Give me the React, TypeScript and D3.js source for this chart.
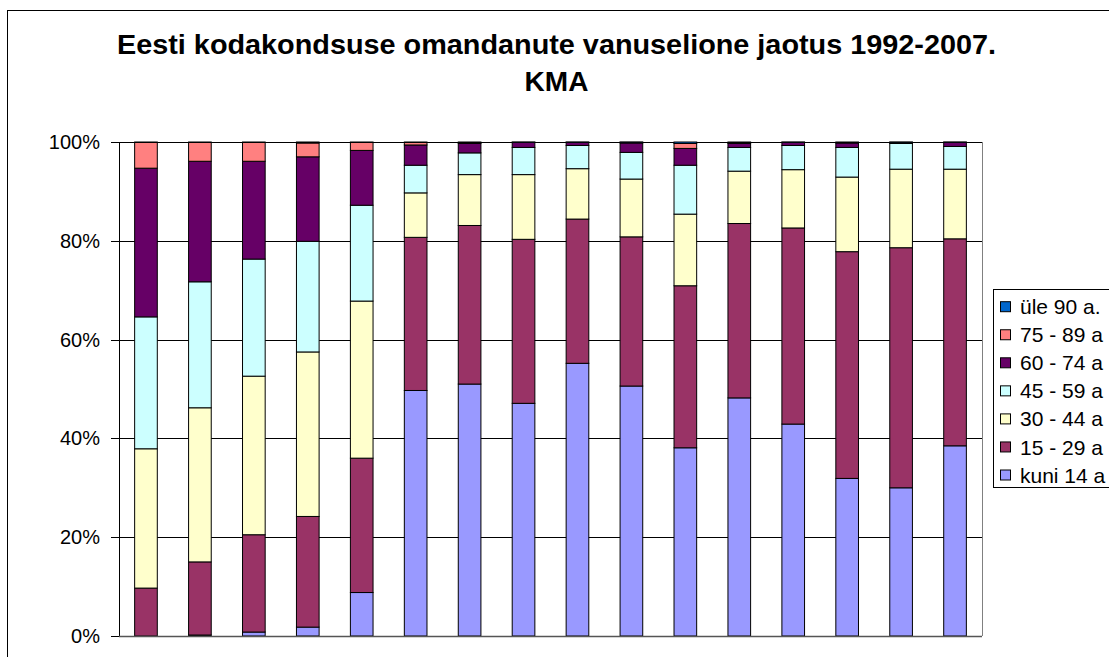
import React from "react";
import * as d3 from "d3";

const WIDTH = 1109;
const HEIGHT = 657;
const plot = { left: 119, right: 982, top: 142, bottom: 636 };

const years = [
  "1992", "1993", "1994", "1995", "1996", "1997", "1998", "1999",
  "2000", "2001", "2002", "2003", "2004", "2005", "2006", "2007",
];

// shares per year, in percent
const kuni14 = [0, 0.2, 0.8, 1.8, 8.8, 49.7, 51.0, 47.1, 55.2, 50.6, 38.1, 48.2, 42.9, 31.9, 30.0, 38.5];
const a15_29 = [9.7, 14.8, 19.7, 22.4, 27.2, 31.0, 32.1, 33.2, 29.2, 30.2, 32.8, 35.3, 39.7, 45.9, 48.6, 41.9];
const a30_44 = [28.2, 31.2, 32.1, 33.3, 31.8, 9.0, 10.3, 13.1, 10.2, 11.7, 14.5, 10.6, 11.8, 15.1, 15.9, 14.1];
const a45_59 = [26.7, 25.5, 23.7, 22.4, 19.4, 5.6, 4.4, 5.5, 4.7, 5.4, 9.9, 4.8, 4.9, 6.0, 5.2, 4.6];
const a60_74 = [30.1, 24.4, 19.8, 17.1, 11.1, 4.1, 1.9, 1.0, 0.6, 1.9, 3.4, 0.8, 0.6, 0.9, 0.2, 0.8];
const a75_89 = [5.2, 3.8, 3.8, 2.8, 1.6, 0.5, 0.2, 0.05, 0.05, 0.15, 1.0, 0.2, 0.05, 0.1, 0.05, 0.05];
const ule90 = [0.1, 0.1, 0.1, 0.2, 0.1, 0.1, 0.1, 0.05, 0.05, 0.05, 0.3, 0.1, 0.05, 0.1, 0.05, 0.05];

const seriesNames = ["kuni 14 a", "15 - 29 a", "30 - 44 a", "45 - 59 a", "60 - 74 a", "75 - 89 a", "üle 90 a."];
const seriesValues = [kuni14, a15_29, a30_44, a45_59, a60_74, a75_89, ule90];
const colors = ["#9999FF", "#993366", "#FFFFCC", "#CCFFFF", "#660066", "#FF8080", "#0066CC"];

const yTicks = [0, 0.2, 0.4, 0.6, 0.8, 1];

const FONT = "'Liberation Sans', Arial, sans-serif";

export default function App() {
  const rows = years.map((year, i) => {
    const row: any = { year };
    seriesNames.forEach((name, s) => (row[name] = seriesValues[s][i]));
    return row;
  });

  const stacked = d3.stack().keys(seriesNames).offset(d3.stackOffsetExpand)(rows);

  const x = d3
    .scaleBand()
    .domain(years)
    .range([plot.left, plot.right])
    .paddingInner(0.58)
    .paddingOuter(0.29);

  const y = d3.scaleLinear().domain([0, 1]).range([plot.bottom, plot.top]);
  const fmt = d3.format(".0%");

  // legend lists the top series first
  const legendOrder = seriesNames.map((n, i) => i).reverse();

  return (
    <svg
      width={WIDTH}
      height={HEIGHT}
      style={{ position: "absolute", left: 0, top: 0, background: "#fff" }}
      fontFamily={FONT}
    >
      <rect x={7.5} y={10.5} width={1200} height={800} fill="#fff" stroke="#000" />

      <text
        x={556.5}
        y={54}
        textAnchor="middle"
        fontSize={28}
        fontWeight="bold"
        textLength={879}
        lengthAdjust="spacingAndGlyphs"
      >
        Eesti kodakondsuse omandanute vanuselione jaotus 1992-2007.
      </text>
      <text x={556.5} y={91} textAnchor="middle" fontSize={28} fontWeight="bold">
        KMA
      </text>

      {/* gridlines */}
      {yTicks.slice(1).map((t) => (
        <line
          key={t}
          x1={plot.left}
          x2={plot.right}
          y1={Math.round(y(t)) + 0.5}
          y2={Math.round(y(t)) + 0.5}
          stroke="#000"
        />
      ))}
      <line x1={plot.right + 0.5} x2={plot.right + 0.5} y1={plot.top} y2={plot.bottom} stroke="#808080" />

      {/* bars */}
      {stacked.map((layer, s) => (
        <g key={layer.key} fill={colors[s]} stroke="#000" strokeWidth={1}>
          {layer.map((d, i) => (
            <rect
              key={years[i]}
              x={x(years[i])}
              y={y(d[1])}
              width={x.bandwidth()}
              height={Math.max(0, y(d[0]) - y(d[1]))}
            />
          ))}
        </g>
      ))}

      {/* y axis */}
      <line x1={plot.left + 0.5} x2={plot.left + 0.5} y1={plot.top} y2={plot.bottom} stroke="#000" />
      <line x1={plot.left} x2={plot.right} y1={plot.bottom + 0.5} y2={plot.bottom + 0.5} stroke="#555" strokeWidth={1.5} />
      {yTicks.map((t) => (
        <g key={t}>
          <line
            x1={plot.left - 8}
            x2={plot.left}
            y1={Math.round(y(t)) + 0.5}
            y2={Math.round(y(t)) + 0.5}
            stroke="#000"
          />
          <text x={100} y={y(t)} dy="0.35em" textAnchor="end" fontSize={20}>
            {fmt(t)}
          </text>
        </g>
      ))}

      {/* legend */}
      <rect x={993.5} y={289.5} width={200} height={198} fill="#fff" stroke="#000" />
      {legendOrder.map((s, k) => {
        const cy = 306.7 + k * 28.05;
        return (
          <g key={seriesNames[s]}>
            <rect x={1000.5} y={cy - 5} width={10} height={10} fill={colors[s]} stroke="#000" />
            <text x={1020} y={cy} dy="0.36em" fontSize={21}>
              {seriesNames[s]}
            </text>
          </g>
        );
      })}
    </svg>
  );
}
